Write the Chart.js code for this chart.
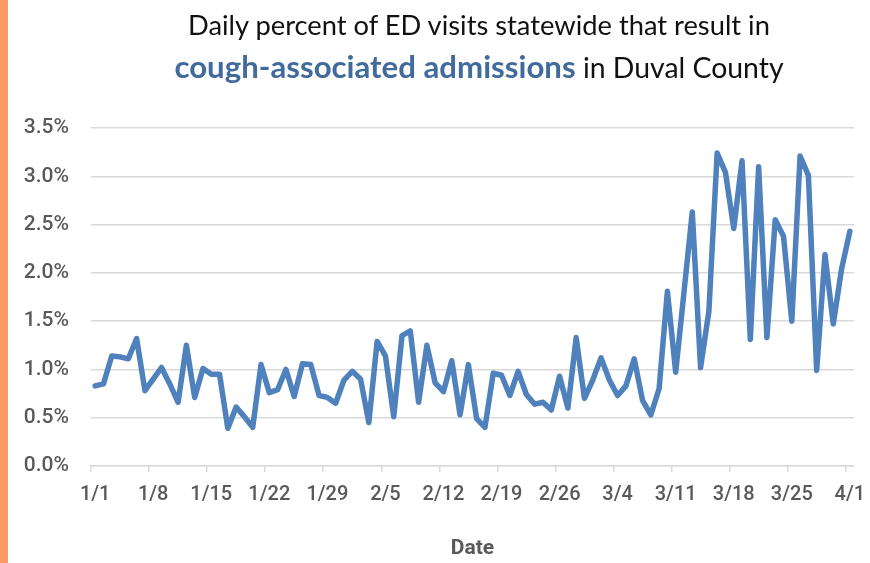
<!DOCTYPE html>
<html>
<head>
<meta charset="utf-8">
<script src="https://cdn.jsdelivr.net/npm/chart.js@4.4.1/dist/chart.umd.min.js"></script>
<style>
  html, body { margin: 0; padding: 0; overflow: hidden; background: #fff; }
  #wrap { position: relative; width: 870px; height: 563px; background: #fff; }
  #strip { position: absolute; left: 0; top: 0; width: 8px; height: 563px; background: #F99B64; }
  .tline {
    position: absolute; left: 88px; width: 782px; text-align: center;
    font-family: Lato, sans-serif; color: #111; white-space: nowrap;
  }
  #t1 { top: 10px; font-size: 27.3px; line-height: 30px; }
  #t2 { top: 46px; font-size: 28.4px; line-height: 40px; }
  #t2 b { color: #416A9D; font-weight: 700; font-size: 31.2px; }
  canvas { position: absolute; left: 0; top: 0; }
</style>
</head>
<body>
<div id="wrap">
  <div id="strip"></div>
  <canvas id="chart" width="870" height="563"></canvas>
  <div class="tline" id="t1">Daily percent of ED visits statewide that result in</div>
  <div class="tline" id="t2"><b>cough-associated admissions</b> in Duval County</div>
</div>
<script>
// one point per day, 1/1 through 4/1
const dates = [
  '1/1','1/2','1/3','1/4','1/5','1/6','1/7','1/8','1/9','1/10','1/11','1/12','1/13','1/14','1/15','1/16',
  '1/17','1/18','1/19','1/20','1/21','1/22','1/23','1/24','1/25','1/26','1/27','1/28','1/29','1/30','1/31',
  '2/1','2/2','2/3','2/4','2/5','2/6','2/7','2/8','2/9','2/10','2/11','2/12','2/13','2/14','2/15','2/16',
  '2/17','2/18','2/19','2/20','2/21','2/22','2/23','2/24','2/25','2/26','2/27','2/28','2/29',
  '3/1','3/2','3/3','3/4','3/5','3/6','3/7','3/8','3/9','3/10','3/11','3/12','3/13','3/14','3/15','3/16',
  '3/17','3/18','3/19','3/20','3/21','3/22','3/23','3/24','3/25','3/26','3/27','3/28','3/29','3/30','3/31',
  '4/1'
];

// percent of ED visits
const coughPct = [
  0.83, 0.85, 1.14, 1.13, 1.11, 1.32, 0.78, 0.90, 1.02, 0.85,
  0.66, 1.25, 0.71, 1.01, 0.95, 0.95, 0.39, 0.61, 0.51, 0.40,
  1.05, 0.76, 0.79, 1.00, 0.72, 1.06, 1.05, 0.73, 0.71, 0.65,
  0.89, 0.98, 0.90, 0.45, 1.29, 1.14, 0.51, 1.35, 1.40, 0.66,
  1.25, 0.86, 0.77, 1.09, 0.53, 1.05, 0.49, 0.40, 0.96, 0.94,
  0.73, 0.98, 0.74, 0.64, 0.66, 0.58, 0.93, 0.60, 1.33, 0.70,
  0.89, 1.12, 0.89, 0.73, 0.83, 1.11, 0.68, 0.53, 0.80, 1.81,
  0.97, 1.80, 2.63, 1.02, 1.60, 3.24, 3.04, 2.46, 3.16, 1.31,
  3.10, 1.33, 2.55, 2.38, 1.50, 3.21, 3.01, 0.99, 2.19, 1.47,
  2.04, 2.43
];

const xTickLabels = ['1/1','1/8','1/15','1/22','1/29','2/5','2/12','2/19','2/26','3/4','3/11','3/18','3/25','4/1'];
const yTicks = [0, 0.5, 1.0, 1.5, 2.0, 2.5, 3.0, 3.5];

const gridColor = '#D9D9D9';
const labelColor = '#595959';

const isLabeled = (i) => i !== undefined && xTickLabels.includes(dates[i]);

new Chart(document.getElementById('chart'), {
  type: 'line',
  data: {
    labels: dates,
    datasets: [{
      label: 'Cough-associated admissions',
      data: coughPct,
      borderColor: '#4F81BD',
      borderWidth: 5.5,
      borderJoinStyle: 'round',
      borderCapStyle: 'round',
      pointRadius: 0,
      tension: 0,
      fill: false
    }]
  },
  options: {
    responsive: false,
    animation: false,
    layout: { padding: { top: 128, right: 16, left: 0, bottom: 0 } },
    plugins: {
      legend: { display: false },
      title: { display: false },
      tooltip: { enabled: false }
    },
    scales: {
      x: {
        type: 'category',
        offset: true,
        afterFit: (s) => { s.height = 97; s.paddingLeft = 0; s.paddingRight = 0; },
        grid: {
          offset: true,
          drawOnChartArea: false,
          drawTicks: true,
          tickLength: 6,
          lineWidth: 1.5,
          tickWidth: 1.5,
          color: (ctx) => isLabeled(ctx.index) ? gridColor : 'transparent',
          tickColor: (ctx) => isLabeled(ctx.index) ? gridColor : 'transparent'
        },
        border: { display: true, color: gridColor, width: 1.5 },
        ticks: {
          autoSkip: false,
          maxRotation: 0,
          minRotation: 0,
          padding: 11,
          color: labelColor,
          font: { family: 'Roboto', size: 20, weight: '500' },
          callback: function (value, index) {
            const d = dates[index];
            return xTickLabels.includes(d) ? d : '';
          }
        },
        title: {
          display: true,
          text: 'Date',
          color: labelColor,
          font: { family: 'Roboto', size: 21, weight: 'bold' },
          padding: { top: 0, bottom: 2 }
        }
      },
      y: {
        min: 0,
        max: 3.5,
        afterFit: (s) => { s.width = 91; s.paddingTop = 0; s.paddingBottom = 0; },
        afterBuildTicks: (s) => { s.ticks = yTicks.map(v => ({ value: v })); },
        grid: { color: gridColor, lineWidth: 1.5, drawTicks: false },
        border: { display: false },
        ticks: {
          padding: 22,
          color: labelColor,
          font: { family: 'Roboto', size: 21, weight: '500' },
          callback: (v) => v.toFixed(1) + '%'
        }
      }
    }
  }
});
</script>
</body>
</html>
